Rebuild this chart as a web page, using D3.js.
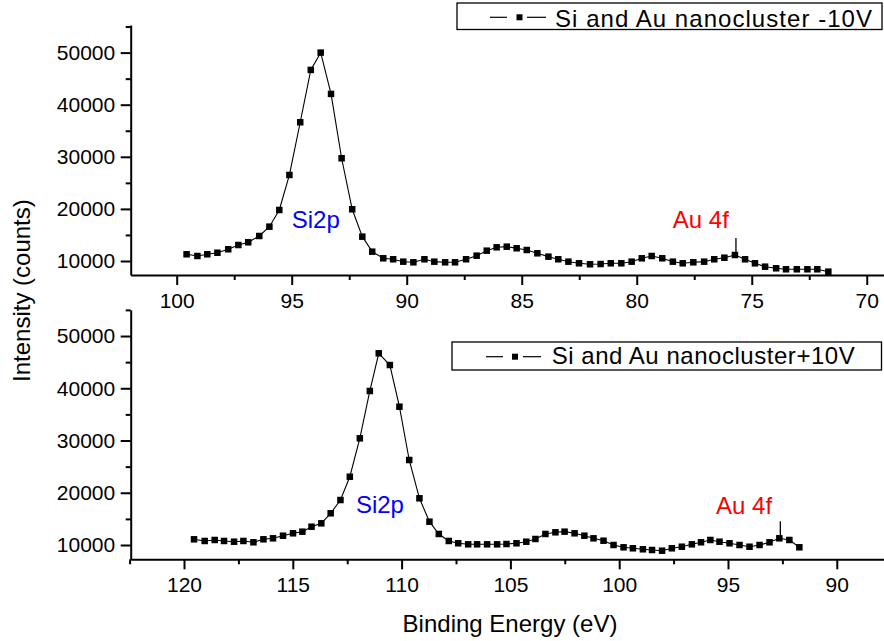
<!DOCTYPE html>
<html>
<head>
<meta charset="utf-8">
<script src="https://cdn.jsdelivr.net/npm/d3@7"></script>
<style>
  html, body { margin: 0; padding: 0; background: #fff; }
  svg { display: block; font-family: Arial, "Liberation Sans", sans-serif; }
</style>
</head>
<body>
<svg id="chart" width="884" height="641"></svg>
<script>
// ---------- DATA ----------
const topEnergy = [99.57, 99.10, 98.67, 98.23, 97.76, 97.32, 96.89, 96.41, 95.97, 95.54,
  95.10, 94.63, 94.17, 93.74, 93.29, 92.83, 92.37, 91.93, 91.50, 91.02,
  90.59, 90.15, 89.71, 89.23, 88.80, 88.33, 87.90, 87.42, 86.96, 86.52,
  86.09, 85.65, 85.22, 84.78, 84.32, 83.84, 83.41, 82.97, 82.51, 82.03,
  81.57, 81.13, 80.67, 80.22, 79.78, 79.35, 78.89, 78.43, 78.00, 77.54,
  77.07, 76.63, 76.19, 75.73, 75.29, 74.86, 74.42, 73.94, 73.51, 73.04,
  72.58, 72.15, 71.67];
const topCounts = [11290, 10960, 11290, 11590, 12250, 13070, 13590, 14800, 16590, 19790,
  26510, 36630, 46680, 50000, 42070, 29720, 19930, 14670, 11790, 10520,
  10330, 9870, 9750, 10330, 9870, 9750, 9750, 10330, 11020, 11980,
  12630, 12750, 12440, 12110, 11480, 10830, 10330, 9870, 9560, 9370,
  9420, 9560, 9560, 9870, 10520, 10960, 10520, 9870, 9560, 9750,
  9870, 10330, 10630, 11150, 10330, 9560, 8910, 8600, 8410, 8410,
  8410, 8410, 7950];

const bottomEnergy = [119.54, 119.05, 118.59, 118.16, 117.70, 117.27, 116.81, 116.35, 115.91, 115.45,
  114.99, 114.56, 114.14, 113.69, 113.26, 112.81, 112.38, 111.92, 111.46, 111.05,
  110.54, 110.10, 109.65, 109.18, 108.72, 108.29, 107.83, 107.40, 106.94, 106.53,
  106.07, 105.61, 105.18, 104.72, 104.27, 103.85, 103.39, 102.93, 102.51, 102.05,
  101.60, 101.18, 100.72, 100.26, 99.80, 99.37, 98.91, 98.49, 98.03, 97.58,
  97.12, 96.66, 96.24, 95.81, 95.39, 94.93, 94.47, 94.01, 93.55, 93.09,
  92.64, 92.18, 91.72];
const bottomCounts = [11090, 10770, 10960, 10770, 10630, 10770, 10520, 11090, 11280, 11780,
  12240, 12550, 13500, 14150, 16070, 18610, 23070, 30420, 39480, 46690,
  44450, 36470, 26270, 18940, 14460, 12110, 10770, 10330, 10130, 10130,
  10130, 10130, 10190, 10330, 10630, 11150, 12110, 12430, 12550, 12240,
  11780, 11280, 10820, 10000, 9560, 9370, 9180, 9040, 8910, 9370,
  9670, 10130, 10520, 10960, 10630, 10330, 10000, 9670, 10000, 10520,
  11280, 10960, 9560];

const topXTicks = [100, 95, 90, 85, 80, 75, 70];
const bottomXTicks = [120, 115, 110, 105, 100, 95, 90];
const yTicks = [10000, 20000, 30000, 40000, 50000];
const yMinorTicks = [15000, 25000, 35000, 45000, 55000];

const topLegend = "Si and Au nanocluster -10V";
const bottomLegend = "Si and Au nanocluster+10V";
const xTitle = "Binding Energy (eV)";
const yTitle = "Intensity (counts)";

// annotations: [label, energy, counts]
const topNotes = [["Si2p", 95.0, 16340, "#0000ff"], ["Au 4f", 78.43, 16400, "#ff0000"]];
const bottomNotes = [["Si2p", 112.1, 16180, "#0000ff"], ["Au 4f", 95.55, 15930, "#ff0000"]];
const topAuIndex = 53;     // point marked by the Au 4f pointer
const bottomAuIndex = 60;

// ---------- LAYOUT ----------
const svg = d3.select("#chart");
const left = 130.7, right = 884;

const panels = [
  { energy: topEnergy, counts: topCounts, xDom: [102, 69.25], yDom: [7312, 55300],
    yTop: 25, yBot: 275, xTicks: topXTicks, xMinor: d3.range(72.5, 102, 5),
    legend: topLegend, box: [457, 3, 425, 26.5], legY: 17.3, legTextX: 555, legBase: 26.5, legLen: 317,
    symX: [490, 507, 519.5, 527, 546], notes: topNotes, au: topAuIndex },
  { energy: bottomEnergy, counts: bottomCounts, xDom: [122.45, 87.83], yDom: [7263, 55000],
    yTop: 309.9, yBot: 559.3, xTicks: bottomXTicks, xMinor: d3.range(92.5, 123, 5),
    legend: bottomLegend, box: [452, 342, 429.5, 28], legY: 356.7, legTextX: 551.7, legBase: 364.3, legLen: 303,
    symX: [486, 503, 515, 523, 541], notes: bottomNotes, au: bottomAuIndex }
];

panels.forEach(p => {
  const x = d3.scaleLinear().domain(p.xDom).range([left, right]);
  const y = d3.scaleLinear().domain(p.yDom).range([p.yBot, p.yTop]);
  const g = svg.append("g");

  // x axis
  const xa = g.append("g").attr("transform", `translate(0,${p.yBot})`)
    .call(d3.axisBottom(x).tickValues(p.xTicks).tickSize(10).tickSizeOuter(0).tickPadding(8).tickFormat(d3.format("d")));
  xa.append("g").call(d3.axisBottom(x).tickValues(p.xMinor).tickSize(5).tickFormat(""))
    .select(".domain").remove();
  // y axis
  const ya = g.append("g").attr("transform", `translate(${left},0)`)
    .call(d3.axisLeft(y).tickValues(yTicks).tickSize(10).tickSizeOuter(0).tickPadding(5.5).tickFormat(d3.format("d")));
  ya.append("g").call(d3.axisLeft(y).tickValues(yMinorTicks).tickSize(5).tickFormat(""))
    .select(".domain").remove();

  g.selectAll(".domain").attr("stroke", "#000").attr("stroke-width", 2);
  g.selectAll(".tick line").attr("stroke", "#000").attr("stroke-width", 2);
  g.selectAll(".tick text").attr("fill", "#000").style("font-size", "21px")
    .style("font-family", 'Arial, "Liberation Sans", sans-serif');

  // line + markers
  const pts = p.energy.map((e, i) => [e, p.counts[i]]);
  g.append("path").datum(pts)
    .attr("fill", "none").attr("stroke", "#000").attr("stroke-width", 1.1)
    .attr("d", d3.line().x(d => x(d[0])).y(d => y(d[1])));
  const s = 6.5;
  g.selectAll("rect.pt").data(pts).join("rect").attr("class", "pt")
    .attr("x", d => x(d[0]) - s / 2).attr("y", d => y(d[1]) - s / 2)
    .attr("width", s).attr("height", s).attr("fill", "#000");

  // annotations
  p.notes.forEach(n => {
    g.append("text").attr("x", x(n[1])).attr("y", y(n[2]))
      .attr("fill", n[3]).style("font-size", "24px").text(n[0]);
  });
  const au = pts[p.au];
  g.append("line").attr("x1", x(au[0]) + 1).attr("x2", x(au[0]) + 1)
    .attr("y1", y(au[1]) - 3).attr("y2", y(au[1]) - 17)
    .attr("stroke", "#000").attr("stroke-width", 1.3);

  // legend
  const [bx, by, bw, bh] = p.box;
  g.append("rect").attr("x", bx).attr("y", by).attr("width", bw).attr("height", bh)
    .attr("fill", "#fff").attr("stroke", "#000").attr("stroke-width", 1.3);
  const [a1, a2, sq, b1, b2] = p.symX;
  g.append("line").attr("x1", a1).attr("x2", a2).attr("y1", p.legY).attr("y2", p.legY)
    .attr("stroke", "#000").attr("stroke-width", 1.2);
  g.append("line").attr("x1", b1).attr("x2", b2).attr("y1", p.legY).attr("y2", p.legY)
    .attr("stroke", "#000").attr("stroke-width", 1.2);
  g.append("rect").attr("x", sq - 3).attr("y", p.legY - 3).attr("width", 6).attr("height", 6).attr("fill", "#000");
  g.append("text").attr("x", p.legTextX).attr("y", p.legBase)
    .attr("textLength", p.legLen).attr("lengthAdjust", "spacing")
    .style("font-size", "24px").attr("fill", "#000").text(p.legend);
});

// axis titles
svg.append("text").attr("x", 510).attr("y", 632).attr("text-anchor", "middle")
  .style("font-size", "24px").attr("fill", "#000").text(xTitle);
svg.append("text").attr("transform", "translate(29.5,382) rotate(-90)")
  .style("font-size", "24px").attr("fill", "#000").text(yTitle);
</script>
</body>
</html>
